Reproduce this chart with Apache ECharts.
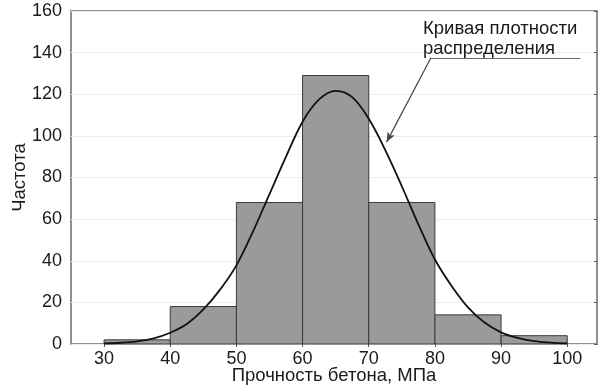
<!DOCTYPE html>
<html>
<head>
<meta charset="utf-8">
<script src="https://cdn.jsdelivr.net/npm/echarts@6/dist/echarts.min.js"></script>
<style>html,body{margin:0;padding:0;background:#fff}#c{width:604px;height:389px}</style>
</head>
<body>
<div id="c"></div>
<script>
// Histogram bins (start, end) and counts
const binStart = [30, 40, 50, 60, 70, 80, 90];
const binEnd   = [40, 50, 60, 70, 80, 90, 100];
const counts   = [2, 18, 68, 129, 68, 14, 4];
// Density curve
const curveX = [30,32.5,35,37.5,40,42.5,45,47.5,50,52.5,55,57.5,60,62.5,65,67.5,70,72.5,75,77.5,80,82.5,85,87.5,90,92.5,95,97.5,100];
const curveY = [0.3,0.6,1.3,2.7,5.4,9.6,16.6,26,37.8,54,72,90,106.8,117.5,121.6,118.6,108.2,93.2,75.8,57.5,40.6,28,17.6,10.3,5.6,2.9,1.4,0.7,0.3];
// Tick labels
const xTicks = [30, 40, 50, 60, 70, 80, 90, 100];
const yTicks = [0, 20, 40, 60, 80, 100, 120, 140, 160];
const xName = 'Прочность бетона, МПа';
const yName = 'Частота';
const noteText = 'Кривая плотности\nраспределения';

const FONT = 'Liberation Sans, Arial, sans-serif';
const chart = echarts.init(document.getElementById('c'), null, {renderer: 'canvas'});

const histData = binStart.map((s, i) => [s, binEnd[i], counts[i]]);
const lineData = curveX.map((x, i) => [x, curveY[i]]);

chart.setOption({
  animation: false,
  backgroundColor: '#ffffff',
  grid: {left: 71, right: 7, top: 11, bottom: 45, containLabel: false, outerBoundsMode: 'none',
         show: true, borderColor: '#8f8f8f', borderWidth: 2, backgroundColor: 'transparent'},
  xAxis: [{
    type: 'value', min: 25, max: 104.5, position: 'bottom',
    name: xName, nameLocation: 'middle', nameGap: 22, nameMoveOverlap: false,
    nameTextStyle: {fontFamily: FONT, fontSize: 18.5, color: '#1a1a1a'},
    axisLine: {show: false}, axisTick: {show: false}, splitLine: {show: false},
    axisLabel: {customValues: xTicks, fontFamily: FONT, fontSize: 18, color: '#1a1a1a', margin: 6}
  }, {
    type: 'value', min: 25, max: 104.5, position: 'top',
    axisLine: {show: false}, axisLabel: {show: false}, splitLine: {show: false},
    axisTick: {show: true, inside: true, length: 3, customValues: xTicks, lineStyle: {color: '#555'}}
  }],
  yAxis: [{
    type: 'value', min: 0, max: 160, interval: 20, position: 'left',
    name: yName, nameLocation: 'middle', nameGap: 42, nameRotate: 90, nameMoveOverlap: false,
    nameTextStyle: {fontFamily: FONT, fontSize: 18.5, color: '#1a1a1a'},
    axisLine: {show: false}, axisTick: {show: false},
    splitLine: {show: true, lineStyle: {color: '#ececec', width: 1}},
    axisLabel: {fontFamily: FONT, fontSize: 18, color: '#1a1a1a', margin: 9}
  }, {
    type: 'value', min: 0, max: 160, interval: 20, position: 'right',
    axisLine: {show: false}, axisLabel: {show: false}, splitLine: {show: false},
    axisTick: {show: true, inside: true, length: 3, lineStyle: {color: '#555'}}
  }],
  series: [{
    type: 'custom',
    xAxisIndex: 0, yAxisIndex: 0,
    data: histData,
    encode: {x: [0, 1], y: 2},
    renderItem: function (params, api) {
      const p0 = api.coord([api.value(0), 0]);
      const p1 = api.coord([api.value(1), api.value(2)]);
      return {
        type: 'rect',
        shape: {x: p0[0], y: p1[1], width: p1[0] - p0[0], height: p0[1] - p1[1]},
        style: {fill: '#9a9a9a', stroke: '#3a3a3a', lineWidth: 1}
      };
    },
    z: 2
  }, {
    type: 'line',
    xAxisIndex: 0, yAxisIndex: 0,
    data: lineData,
    smooth: 0.35,
    showSymbol: false,
    lineStyle: {color: '#111', width: 1.8},
    z: 3,
    markLine: {
      silent: true,
      symbol: ['none', 'none'],
      label: {show: false},
      lineStyle: {color: '#6a6a6a', width: 1.2, type: 'solid'},
      data: [
        [{coord: [102, 137.5], symbol: 'none'}, {coord: [79.4, 137.5], symbol: 'none'}],
        [{coord: [79.4, 137.5], symbol: 'none'}, {coord: [72.7, 97], symbol: 'arrow', symbolSize: [6, 10], lineStyle: {color: '#444'}}]
      ]
    }
  }],
  graphic: [{
    type: 'text', left: 423, top: 19, z: 10,
    style: {text: noteText, fontFamily: FONT, fontSize: 18.5, lineHeight: 20, fill: '#1a1a1a'}
  }]
});
</script>
</body>
</html>
